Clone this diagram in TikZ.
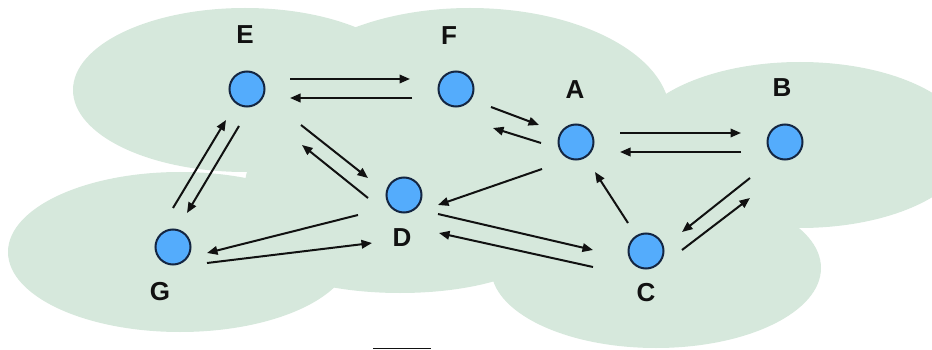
\documentclass[tikz,border=0pt]{standalone}
\usepackage{fontspec}
\setmainfont{Liberation Sans}
\usetikzlibrary{arrows.meta,calc}
\definecolor{cloud}{RGB}{214,232,220}
\definecolor{nodefill}{RGB}{84,172,252}
\definecolor{nodeline}{RGB}{20,38,66}
\definecolor{arrowcol}{RGB}{17,17,17}
\begin{document}
\begin{tikzpicture}[x=1pt,y=-1pt,
  vertex/.style={circle,fill=nodefill,draw=nodeline,line width=2pt,minimum size=35pt,inner sep=0pt},
  lbl/.style={font=\bfseries\fontsize{26}{26}\selectfont,inner sep=0pt,text=arrowcol},
  link/.style={draw=arrowcol,line width=2pt,-{Triangle[length=10.5pt,width=8.5pt]}},
  blob/.style={fill=cloud,draw=none}]
\useasboundingbox (0,0) rectangle (932,350);
% cloud
\fill[blob] (245,90) ellipse [x radius=172, y radius=82];
\fill[blob] (470,115) ellipse [x radius=200, y radius=107];
\fill[blob] (800,145) ellipse [x radius=170, y radius=83];
\fill[blob] (180,252) ellipse [x radius=172, y radius=80];
\fill[blob] (450,185) ellipse [x radius=205, y radius=95];
\fill[blob] (400,240) ellipse [x radius=150, y radius=53];
\fill[blob] (656,268) ellipse [x radius=165, y radius=80];
% vertices
\node[vertex] (E) at (247,89) {};
\node[vertex] (F) at (456,89) {};
\node[vertex] (A) at (576,142) {};
\node[vertex] (B) at (785,142) {};
\node[vertex] (D) at (404,195) {};
\node[vertex] (G) at (173,247) {};
\node[vertex] (C) at (646,251) {};
% labels
\node[lbl] (lE) at (245,35) {E};
\node[lbl] (lF) at (449,36) {F};
\node[lbl] (lA) at (575,90) {A};
\node[lbl] (lB) at (782,88) {B};
\node[lbl] (lD) at (402,238) {D};
\node[lbl] (lG) at (160,292) {G};
\node[lbl] (lC) at (646,293) {C};
% links
\draw[link] ($(E)+(43,-10)$) -- ($(F)+(-46,-10)$);
\draw[link] ($(F)+(-44,9)$) -- ($(E)+(43,9)$);
\draw[link] ($(F)+(35,18)$) -- ($(A)+(-37,-17)$);
\draw[link] ($(A)+(-35,1)$) -- ($(F)+(37,39)$);
\draw[link] ($(A)+(44,-9)$) -- ($(B)+(-44,-9)$);
\draw[link] ($(B)+(-44,10)$) -- ($(A)+(44,10)$);
\draw[link] ($(B)+(-35,36)$) -- ($(C)+(36,-19)$);
\draw[link] ($(C)+(36,-1)$) -- ($(B)+(-35,56)$);
\draw[link] ($(C)+(-18,-28)$) -- ($(A)+(19,30)$);
\draw[link] ($(A)+(-34,27)$) -- ($(D)+(34,10)$);
\draw[link] ($(D)+(34,19)$) -- ($(C)+(-53,-1)$);
\draw[link] ($(C)+(-53,16)$) -- ($(D)+(35,38)$);
\draw[link] ($(E)+(54,36)$) -- ($(D)+(-36,-17)$);
\draw[link] ($(D)+(-36,3)$) -- ($(E)+(55,56)$);
\draw[link] ($(G)+(0,-39)$) -- ($(E)+(-21,31)$);
\draw[link] ($(E)+(-8,37)$) -- ($(G)+(14,-34)$);
\draw[link] ($(D)+(-46,20)$) -- ($(G)+(34,6)$);
\draw[link] ($(G)+(34,16)$) -- ($(D)+(-32,48)$);
% small mark at the bottom edge
\draw[arrowcol,line width=1.5pt] (373,348.6) -- (431,348.6);
\end{tikzpicture}
\end{document}
